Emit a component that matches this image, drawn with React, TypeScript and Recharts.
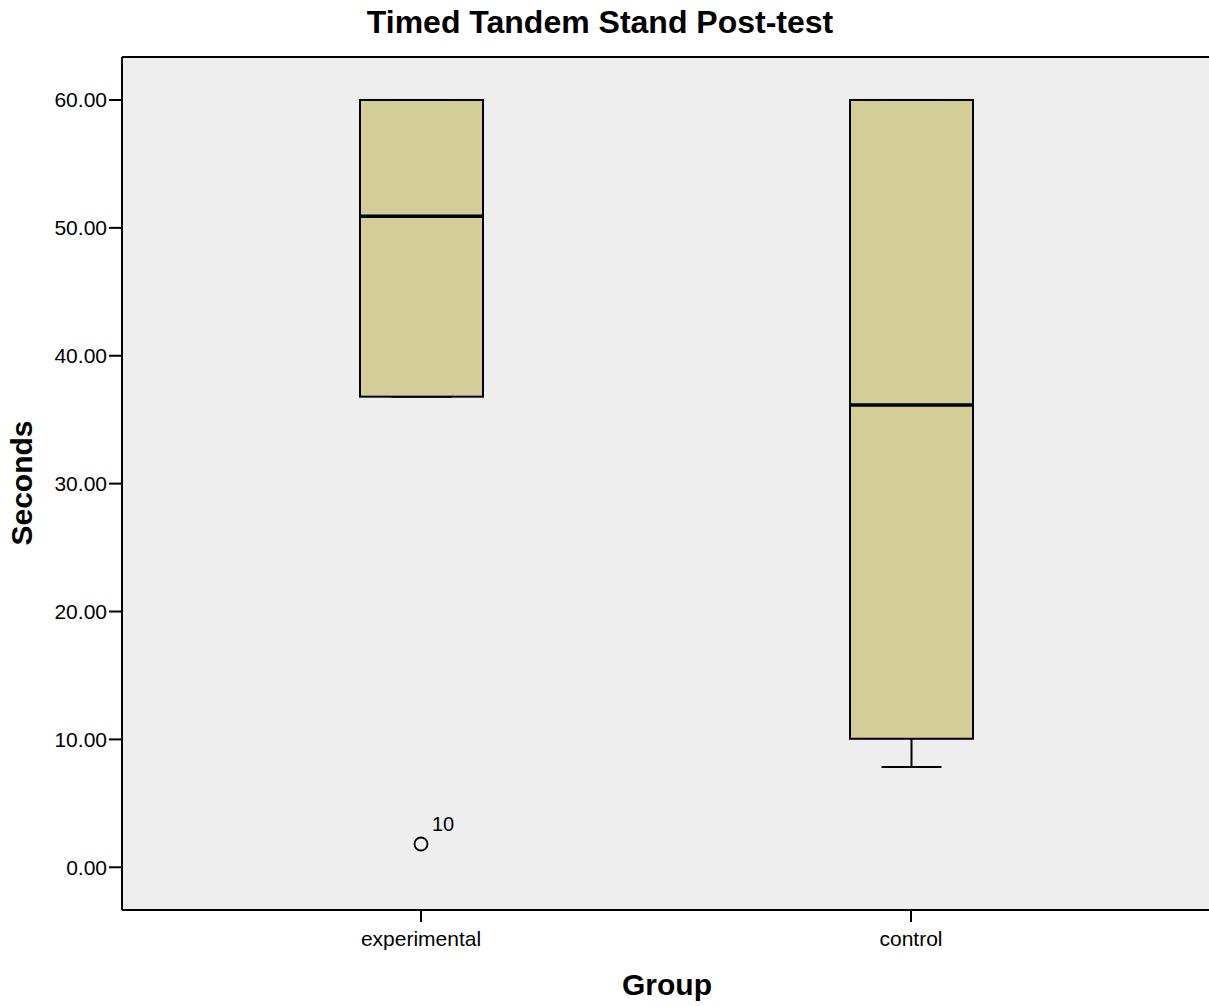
import {
  ComposedChart,
  Bar,
  Scatter,
  XAxis,
  YAxis,
  CartesianGrid,
  ReferenceLine,
} from 'recharts';

const groups = ['experimental', 'control'];
const mins = [36.8, 7.85];
const q1s = [36.8, 10.05];
const medians = [50.9, 36.15];
const q3s = [60, 60];
const maxs = [60, 60];
const outliers: (number | null)[] = [1.82, null];
const outlierLabels = ['10', ''];
const yTicks = [0, 10, 20, 30, 40, 50, 60];

const FONT = 'Arial, "Liberation Sans", Helvetica, sans-serif';
const BOX_FILL = '#D3CE98';
const PLOT_BG = '#EEEEEE';
const Y_MIN = -3.34;
const Y_MAX = 63.36;

// stacked segments: base -> lower whisker -> lower box -> upper box -> upper whisker
const chartData = groups.map((g, i) => ({
  group: g,
  base: mins[i],
  lowerWhisker: q1s[i] - mins[i],
  lowerBox: medians[i] - q1s[i],
  upperBox: q3s[i] - medians[i],
  upperWhisker: maxs[i] - q3s[i],
  outlier: outliers[i],
  outlierLabel: outlierLabels[i],
}));

const CAP = 30;

function LowerWhisker(props: any) {
  const { x, y, width, height } = props;
  const cx = x + width / 2;
  const bottom = y + height;
  return (
    <g>
      <line x1={cx} y1={y} x2={cx} y2={bottom} stroke="#000" strokeWidth={2} />
      <line x1={cx - CAP} y1={bottom} x2={cx + CAP} y2={bottom} stroke="#000" strokeWidth={2} />
    </g>
  );
}

function UpperWhisker(props: any) {
  const { x, y, width, height } = props;
  const cx = x + width / 2;
  return (
    <g>
      <line x1={cx} y1={y} x2={cx} y2={y + height} stroke="#000" strokeWidth={2} />
      <line x1={cx - CAP} y1={y} x2={cx + CAP} y2={y} stroke="#000" strokeWidth={2} />
    </g>
  );
}

function LowerBox(props: any) {
  const { x, y, width, height } = props;
  return (
    <g>
      <rect x={x} y={y} width={width} height={height} fill={BOX_FILL} stroke="#000" strokeWidth={2} />
    </g>
  );
}

function UpperBox(props: any) {
  const { x, y, width, height } = props;
  return (
    <g>
      <rect x={x} y={y} width={width} height={height} fill={BOX_FILL} stroke="#000" strokeWidth={2} />
      {/* median line sits on the bottom edge of the upper half */}
      <line x1={x} y1={y + height} x2={x + width} y2={y + height} stroke="#000" strokeWidth={3.5} />
    </g>
  );
}

function OutlierDot(props: any) {
  const { cx, cy, payload } = props;
  if (payload == null || payload.outlier == null || cx == null || cy == null) return null;
  return (
    <g>
      <circle cx={cx} cy={cy} r={6.5} fill={PLOT_BG} stroke="#000" strokeWidth={1.8} />
      <text x={cx + 11} y={cy - 13} fontSize={20} fontFamily={FONT} fill="#000">
        {payload.outlierLabel}
      </text>
    </g>
  );
}

export default function App() {
  return (
    <div
      style={{
        position: 'absolute',
        left: 0,
        top: 0,
        width: 1209,
        height: 1006,
        overflow: 'hidden',
        background: '#fff',
        fontFamily: FONT,
      }}
    >
      <div
        style={{
          position: 'absolute',
          top: 22,
          left: 600,
          transform: 'translate(-50%, -50%)',
          whiteSpace: 'nowrap',
          fontSize: 32,
          fontWeight: 'bold',
        }}
      >
        Timed Tandem Stand Post-test
      </div>
      <div
        style={{
          position: 'absolute',
          left: 22,
          top: 483,
          transform: 'translate(-50%, -50%) rotate(-90deg)',
          fontSize: 30,
          fontWeight: 'bold',
          whiteSpace: 'nowrap',
        }}
      >
        Seconds
      </div>
      <div
        style={{
          position: 'absolute',
          left: 667,
          top: 985,
          transform: 'translate(-50%, -50%)',
          fontSize: 30,
          fontWeight: 'bold',
        }}
      >
        Group
      </div>
      <ComposedChart
        width={1212}
        height={1006}
        data={chartData}
        margin={{ top: 57, right: 2, left: 22, bottom: 46 }}
        barCategoryGap={0}
      >
        <CartesianGrid horizontal={false} vertical={false} fill={PLOT_BG} />
        <XAxis
          dataKey="group"
          padding={{ left: 54, right: 54 }}
          height={50}
          tickSize={12}
          axisLine={{ stroke: '#000', strokeWidth: 2 }}
          tickLine={{ stroke: '#000', strokeWidth: 2 }}
          tick={{ fontSize: 21, fill: '#000', fontFamily: FONT, dy: 7 }}
          interval={0}
        />
        <YAxis
          type="number"
          domain={[Y_MIN, Y_MAX]}
          ticks={yTicks}
          width={100}
          tickSize={13}
          allowDataOverflow
          axisLine={{ stroke: '#000', strokeWidth: 2 }}
          tickLine={{ stroke: '#000', strokeWidth: 2 }}
          tick={{ fontSize: 21, fill: '#000', fontFamily: FONT }}
          tickFormatter={(v: number) => v.toFixed(2)}
        />
        <ReferenceLine y={Y_MAX} stroke="#000" strokeWidth={2} ifOverflow="extendDomain" />
        <Bar dataKey="base" stackId="box" barSize={123} fill="none" isAnimationActive={false} shape={() => <g />} />
        <Bar dataKey="lowerWhisker" stackId="box" barSize={123} isAnimationActive={false} shape={LowerWhisker} />
        <Bar dataKey="lowerBox" stackId="box" barSize={123} isAnimationActive={false} shape={LowerBox} />
        <Bar dataKey="upperBox" stackId="box" barSize={123} isAnimationActive={false} shape={UpperBox} />
        <Bar dataKey="upperWhisker" stackId="box" barSize={123} isAnimationActive={false} shape={UpperWhisker} />
        <Scatter dataKey="outlier" isAnimationActive={false} shape={OutlierDot} />
      </ComposedChart>
    </div>
  );
}
